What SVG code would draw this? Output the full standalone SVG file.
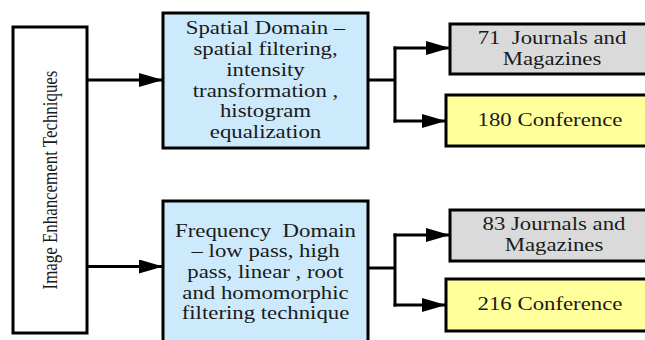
<svg xmlns="http://www.w3.org/2000/svg" width="645" height="340" viewBox="0 0 645 340">
<style>
.box{stroke:#000;stroke-width:3}
.t{font-family:'Liberation Serif','Times New Roman',serif;font-size:19px;fill:#1a1a1a;text-anchor:middle;white-space:pre}
.c{fill:none;stroke:#000;stroke-width:3}
</style>
<defs>
<marker id="ah" viewBox="0 0 24 14" refX="24" refY="7" markerWidth="24" markerHeight="14" markerUnits="userSpaceOnUse" orient="auto">
<path d="M0,0 L24,7 L0,14 z" fill="#000"/>
</marker>
</defs>
<rect width="645" height="340" fill="#fff"/>
<g id="root">
<rect class="box" x="13" y="27" width="74" height="306" fill="#fff"/>
<text class="t" transform="translate(57 180) scale(1.25 1) rotate(-90)" x="0" y="0" style="font-size:16.9px">Image Enhancement Techniques</text>
</g>
<g id="spatial">
<rect class="box" x="163" y="13" width="205" height="135" fill="#cdeafc"/>
<g transform="translate(265.5 0) scale(1.2 1)">
<text class="t" x="0" y="34">Spatial Domain –</text>
<text class="t" x="0" y="55">spatial filtering,</text>
<text class="t" x="0" y="76">intensity</text>
<text class="t" x="0" y="97">transformation ,</text>
<text class="t" x="0" y="117">histogram</text>
<text class="t" x="0" y="138">equalization</text>
</g>
</g>
<g id="frequency">
<rect class="box" x="163" y="201" width="205" height="150" fill="#cdeafc"/>
<g transform="translate(265.5 0) scale(1.2 1)">
<text class="t" x="0" y="237" xml:space="preserve">Frequency  Domain</text>
<text class="t" x="0" y="257">– low pass, high</text>
<text class="t" x="0" y="278">pass, linear , root</text>
<text class="t" x="0" y="299">and homomorphic</text>
<text class="t" x="0" y="319">filtering technique</text>
</g>
</g>
<g id="journals1">
<rect class="box" x="450" y="24" width="205" height="50" fill="#dadada"/>
<g transform="translate(552 0) scale(1.2 1)">
<text class="t" x="0" y="44" xml:space="preserve">71  Journals and</text>
<text class="t" x="0" y="65">Magazines</text>
</g>
</g>
<g id="conf1">
<rect class="box" x="446" y="95" width="209" height="51" fill="#ffff9c"/>
<g transform="translate(550 0) scale(1.2 1)">
<text class="t" x="0" y="126">180 Conference</text>
</g>
</g>
<g id="journals2">
<rect class="box" x="450" y="210" width="205" height="51" fill="#dadada"/>
<g transform="translate(554 0) scale(1.2 1)">
<text class="t" x="0" y="230">83 Journals and</text>
<text class="t" x="0" y="251">Magazines</text>
</g>
</g>
<g id="conf2">
<rect class="box" x="446" y="279" width="209" height="52" fill="#ffff9c"/>
<g transform="translate(550 0) scale(1.2 1)">
<text class="t" x="0" y="310">216 Conference</text>
</g>
</g>
<g id="connectors">
<path class="c" d="M87,80 H163" marker-end="url(#ah)"/>
<path class="c" d="M87,266.5 H163" marker-end="url(#ah)"/>
<path class="c" d="M368,80 H395"/>
<path class="c" d="M395,46.5 V122.5" stroke-width="3.5"/>
<path class="c" d="M393.5,48 H450" marker-end="url(#ah)"/>
<path class="c" d="M393.5,121 H446" marker-end="url(#ah)"/>
<path class="c" d="M368,268 H395"/>
<path class="c" d="M395,233.5 V306.5" stroke-width="3.5"/>
<path class="c" d="M393.5,235 H450" marker-end="url(#ah)"/>
<path class="c" d="M393.5,305 H446" marker-end="url(#ah)"/>
</g>
</svg>
